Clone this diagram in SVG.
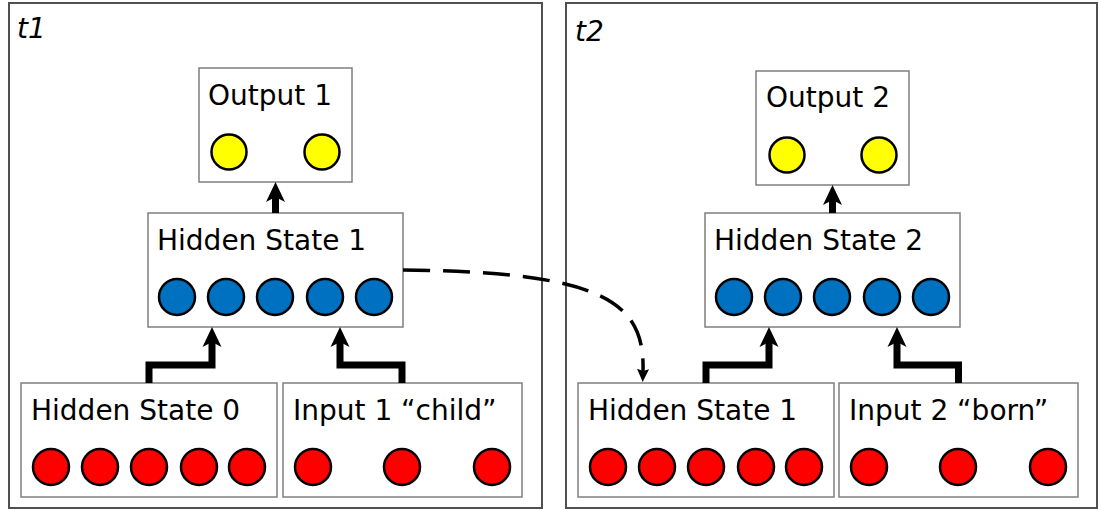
<svg xmlns="http://www.w3.org/2000/svg" width="1100" height="510" viewBox="0 0 1100 510">
<style>
.panel{fill:#fff;stroke:#505050;stroke-width:2}
.box{fill:#fff;stroke:#7f7f7f;stroke-width:1.5}
.lbl{font-family:"DejaVu Sans","Liberation Sans",sans-serif;font-size:28px;fill:#000}
.ttl{font-family:"DejaVu Sans","Liberation Sans",sans-serif;font-size:28px;font-style:italic;fill:#000}
.y{fill:#ffff00;stroke:#000;stroke-width:2.5}
.b{fill:#0070c0;stroke:#000;stroke-width:2.5}
.r{fill:#ff0000;stroke:#000;stroke-width:2.5}
.thick{fill:none;stroke:#000;stroke-width:7;marker-end:url(#big)}
.dash{fill:none;stroke:#000;stroke-width:3.5;stroke-dasharray:27 13;marker-end:url(#small)}
</style>
<defs>
<marker id="big" markerUnits="userSpaceOnUse" viewBox="-10 -12 26 24" refX="0" refY="0" markerWidth="26" markerHeight="24" orient="auto">
<path d="M14,0 L-6,-9.5 L-1,0 L-6,9.5 Z" fill="#000"/>
</marker>
<marker id="small" markerUnits="userSpaceOnUse" viewBox="-4 -8 18 16" refX="0" refY="0" markerWidth="18" markerHeight="16" orient="auto">
<path d="M11,0 L-2,-6 L0,0 L-2,6 Z" fill="#000"/>
</marker>
</defs>
<rect width="1100" height="510" fill="#fff"/>

<g id="panel-t1">
<rect class="panel" x="9" y="3" width="533" height="505"/>
<text class="ttl" x="17" y="38">t1</text>
</g>
<g id="panel-t2">
<rect class="panel" x="566" y="3" width="531" height="505"/>
<text class="ttl" x="575" y="41">t2</text>
</g>

<g id="output1">
<rect class="box" x="199" y="68" width="153" height="114"/>
<text class="lbl" x="208" y="105">Output 1</text>
<circle class="y" cx="229" cy="152" r="17.5"/>
<circle class="y" cx="322" cy="152" r="17.5"/>
</g>

<g id="hidden1">
<rect class="box" x="148" y="213" width="255" height="114"/>
<text class="lbl" x="157" y="250">Hidden State 1</text>
<circle class="b" cx="177" cy="297" r="18"/>
<circle class="b" cx="226" cy="297" r="18"/>
<circle class="b" cx="275" cy="297" r="18"/>
<circle class="b" cx="325" cy="297" r="18"/>
<circle class="b" cx="374" cy="297" r="18"/>
</g>

<g id="hidden0">
<rect class="box" x="21" y="383" width="256" height="114"/>
<text class="lbl" x="31" y="420">Hidden State 0</text>
<circle class="r" cx="51" cy="467" r="18"/>
<circle class="r" cx="100" cy="467" r="18"/>
<circle class="r" cx="149" cy="467" r="18"/>
<circle class="r" cx="199" cy="467" r="18"/>
<circle class="r" cx="247" cy="467" r="18"/>
</g>

<g id="input1">
<rect class="box" x="283" y="383" width="239" height="114"/>
<text class="lbl" x="293" y="420">Input 1 “child”</text>
<circle class="r" cx="313" cy="467" r="18"/>
<circle class="r" cx="402" cy="467" r="18"/>
<circle class="r" cx="492" cy="467" r="18"/>
</g>

<g id="output2">
<rect class="box" x="756" y="71" width="153" height="114"/>
<text class="lbl" x="766" y="107">Output 2</text>
<circle class="y" cx="787" cy="155" r="17.5"/>
<circle class="y" cx="879" cy="155" r="17.5"/>
</g>

<g id="hidden2">
<rect class="box" x="705" y="213" width="255" height="114"/>
<text class="lbl" x="714" y="250">Hidden State 2</text>
<circle class="b" cx="734" cy="297" r="18"/>
<circle class="b" cx="783" cy="297" r="18"/>
<circle class="b" cx="832" cy="297" r="18"/>
<circle class="b" cx="882" cy="297" r="18"/>
<circle class="b" cx="931" cy="297" r="18"/>
</g>

<g id="hidden1b">
<rect class="box" x="578" y="383" width="256" height="114"/>
<text class="lbl" x="588" y="420">Hidden State 1</text>
<circle class="r" cx="608" cy="467" r="18"/>
<circle class="r" cx="657" cy="467" r="18"/>
<circle class="r" cx="706" cy="467" r="18"/>
<circle class="r" cx="756" cy="467" r="18"/>
<circle class="r" cx="804" cy="467" r="18"/>
</g>

<g id="input2">
<rect class="box" x="839" y="383" width="239" height="114"/>
<text class="lbl" x="849" y="420">Input 2 “born”</text>
<circle class="r" cx="869" cy="467" r="18"/>
<circle class="r" cx="958" cy="467" r="18"/>
<circle class="r" cx="1048" cy="467" r="18"/>
</g>

<g id="connectors">
<path class="thick" d="M275.5,213 L275.5,196"/>
<path class="thick" d="M149,383 L149,365 L212,365 L212,341"/>
<path class="thick" d="M402,383 L402,365 L340,365 L340,341"/>
<path class="thick" d="M832.5,213 L832.5,199"/>
<path class="thick" d="M706,383 L706,365 L769,365 L769,341"/>
<path class="thick" d="M958.5,383 L958.5,365 L897,365 L897,341"/>
<path class="dash" d="M403,270 C600,272 645,300 643,371"/>
</g>
</svg>
